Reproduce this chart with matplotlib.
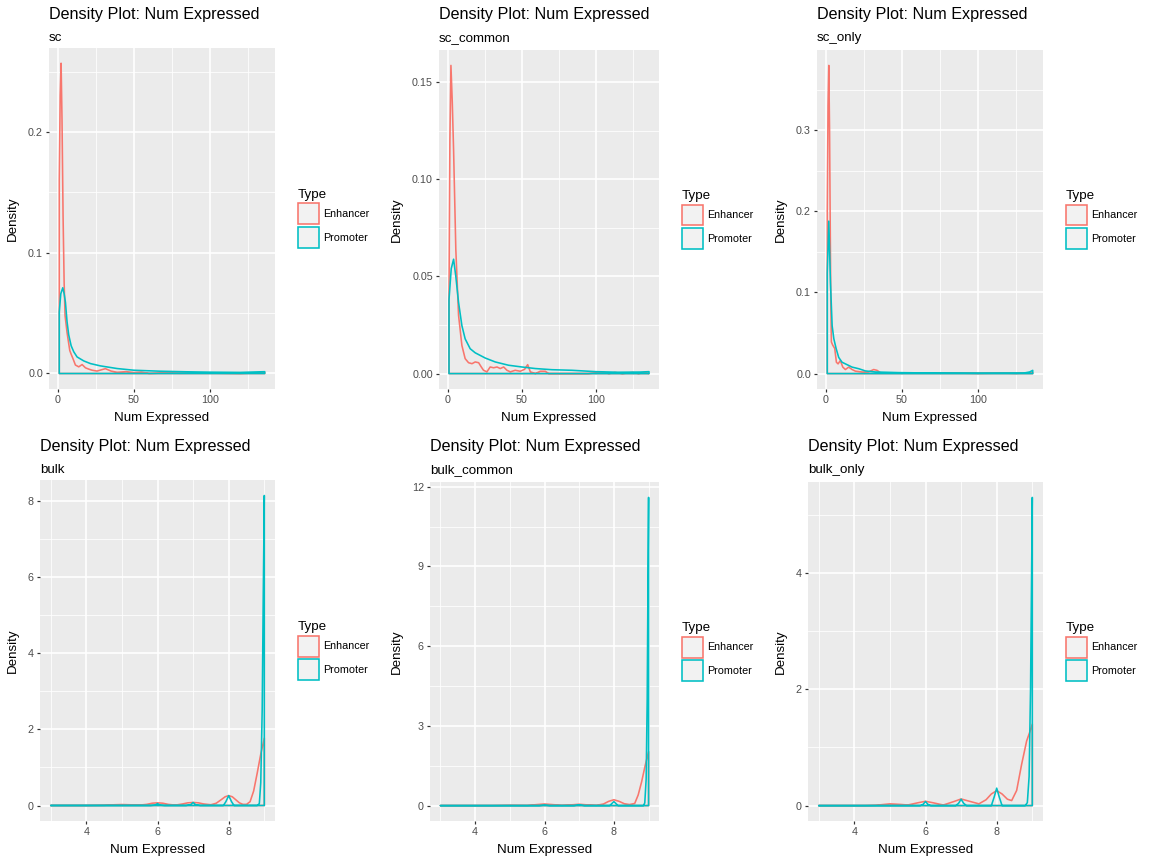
import matplotlib
matplotlib.use("Agg")
import matplotlib.pyplot as plt
from matplotlib.patches import Patch
from matplotlib.ticker import AutoMinorLocator
import numpy as np

plt.rcParams['font.family'] = ['Liberation Sans', 'DejaVu Sans']

# colours (ggplot defaults)
enh_color = '#F8766D'
pro_color = '#00BFC4'
panel_bg = '#EBEBEB'

type_names = ['Enhancer', 'Promoter']
panel_names = ['sc', 'sc_common', 'sc_only', 'bulk', 'bulk_common', 'bulk_only']

# ---- density curves ----
sc_enh_x = [1, 1.6, 2.2, 2.8, 3.5, 4.2, 4.8, 6.1, 7.9, 8.8, 10.1, 11.6, 13.8, 16, 18.2, 20.4, 22.6, 25.8,
            31.3, 35, 39, 45, 50, 55, 60, 70, 80, 100, 120, 136]
sc_enh_y = [0.16, 0.23, 0.257, 0.21, 0.13, 0.075, 0.048, 0.034, 0.019, 0.016, 0.012, 0.007, 0.0055, 0.0074,
            0.0047, 0.0036, 0.0027, 0.002, 0.004, 0.002, 0.001, 0.0015, 0.0008, 0.0012, 0.0, 0.0004, 0.0002,
            0.0003, 0.0, 0.0008]
sc_pro_x = [1, 2, 3.3, 4.2, 5.05, 6.1, 7.2, 8.8, 10.5, 12.7, 17.1, 21.5, 28, 39, 50, 67, 85, 100, 120, 136]
sc_pro_y = [0.051, 0.066, 0.071, 0.066, 0.059, 0.043, 0.032, 0.023, 0.018, 0.0137, 0.0104, 0.0082, 0.0063,
            0.0041, 0.0027, 0.0019, 0.0014, 0.0011, 0.0009, 0.0015]

scc_enh_x = [1, 1.6, 2.3, 3.2, 4.1, 5.6, 7.45, 9.7, 11.9, 14.2, 16.5, 18.7, 21, 22.8, 24.3, 26.6, 28.8, 31.1,
             33.4, 35.6, 37.9, 40.1, 42.4, 45.7, 49.1, 52, 54.1, 55.9, 59.3, 62.6, 66, 68.3, 80, 95, 105, 109,
             113, 118, 125, 129, 133, 136]
scc_enh_y = [0.04, 0.12, 0.1587, 0.14, 0.115, 0.064, 0.030, 0.0145, 0.0077, 0.0056, 0.0051, 0.006, 0.0056,
             0.0034, 0.0017, 0.0009, 0.0034, 0.003, 0.0034, 0.0026, 0.0034, 0.0017, 0.0009, 0.0017, 0.0012,
             0.0022, 0.0046, 0.0009, 0.0, 0.0012, 0.0012, 0.0, 0.0, 0.0, 0.0007, 0.0, 0.0006, 0.0, 0.0006, 0.0,
             0.0006, 0.0]
scc_pro_x = [1, 2.5, 4.1, 5.6, 7.45, 9.7, 11.9, 15.3, 18.7, 25.5, 32.2, 41.2, 50.2, 59.3, 70.5, 84, 100, 115,
             130, 136]
scc_pro_y = [0.038, 0.054, 0.0589, 0.050, 0.0367, 0.0247, 0.0179, 0.0128, 0.0107, 0.008, 0.006, 0.0043,
             0.0034, 0.0026, 0.002, 0.0017, 0.001, 0.0007, 0.0008, 0.001]

sco_enh_x = [1, 1.5, 2.0, 2.5, 2.9, 3.3, 3.7, 4.6, 5.9, 7, 8.1, 9.6, 11.2, 12.9, 15.1, 17.3, 19.5, 23.9, 28,
             31.5, 33.7, 36, 45, 60, 85, 100, 116, 125, 136]
sco_enh_y = [0.2, 0.33, 0.38, 0.3, 0.194, 0.09, 0.039, 0.035, 0.031, 0.014, 0.012, 0.016, 0.008, 0.005, 0.008,
             0.005, 0.003, 0.002, 0.002, 0.005, 0.004, 0.001, 0.0005, 0.0008, 0.0006, 0.0003, 0.0006, 0.0003,
             0.001]
sco_pro_x = [1, 2.0, 3.1, 4.2, 5.3, 6.8, 8.5, 10.7, 14, 17.3, 21.7, 26, 32.6, 48, 70, 100, 130, 134, 136]
sco_pro_y = [0.124, 0.188, 0.112, 0.059, 0.043, 0.031, 0.020, 0.014, 0.011, 0.008, 0.006, 0.0033, 0.002,
             0.0012, 0.0007, 0.0005, 0.0006, 0.002, 0.004]

bulk_enh_x = [3.0, 4.0, 4.5, 4.8, 5.0, 5.2, 5.5, 5.7, 5.85, 6.0, 6.15, 6.3, 6.5, 6.7, 6.85, 7.0, 7.15, 7.3,
              7.5, 7.65, 7.8, 7.9, 8.0, 8.1, 8.2, 8.3, 8.4, 8.5, 8.6, 8.7, 8.8, 8.9, 9.0]
bulk_enh_y = [0, 0, 0.005, 0.02, 0.025, 0.02, 0.01, 0.03, 0.06, 0.07, 0.06, 0.03, 0.01, 0.04, 0.07, 0.08,
              0.07, 0.04, 0.02, 0.06, 0.16, 0.23, 0.26, 0.23, 0.15, 0.07, 0.03, 0.03, 0.1, 0.38, 0.85, 1.35,
              1.77]
bulk_pro_x = [3.0, 5.8, 5.93, 6.0, 6.07, 6.2, 6.8, 6.93, 7.0, 7.07, 7.2, 7.85, 7.92, 8.0, 8.08, 8.15, 8.8,
              8.86, 8.9, 8.94, 8.97, 9.0]
bulk_pro_y = [0, 0, 0.01, 0.05, 0.01, 0, 0, 0.02, 0.08, 0.02, 0, 0, 0.1, 0.26, 0.1, 0, 0, 0.05, 0.6, 2.5,
              5.5, 8.15]

bc_enh_x = [3.0, 4.5, 5.0, 5.5, 5.8, 6.0, 6.2, 6.5, 6.8, 7.0, 7.2, 7.5, 7.7, 7.85, 8.0, 8.15, 8.3, 8.45,
            8.6, 8.7, 8.8, 8.9, 9.0]
bc_enh_y = [0, 0, 0.01, 0.005, 0.04, 0.06, 0.04, 0.01, 0.03, 0.05, 0.03, 0.01, 0.06, 0.16, 0.22, 0.16,
            0.07, 0.04, 0.08, 0.4, 0.9, 1.5, 2.03]
bc_pro_x = [3.0, 5.85, 6.0, 6.15, 6.85, 7.0, 7.15, 7.88, 8.0, 8.12, 8.85, 8.89, 8.93, 8.96, 8.98, 9.0]
bc_pro_y = [0, 0, 0.02, 0, 0, 0.03, 0, 0, 0.15, 0, 0, 0.1, 1.0, 4.0, 8.0, 11.6]

bo_enh_x = [3.0, 4.3, 4.6, 5.0, 5.3, 5.5, 5.8, 6.0, 6.2, 6.5, 6.8, 7.0, 7.2, 7.5, 7.7, 7.85, 8.0, 8.15,
            8.3, 8.42, 8.56, 8.7, 8.84, 8.92, 9.0]
bo_enh_y = [0, 0, 0.005, 0.03, 0.02, 0.01, 0.05, 0.074, 0.05, 0.01, 0.07, 0.114, 0.08, 0.03, 0.1, 0.2,
            0.257, 0.2, 0.11, 0.086, 0.26, 0.71, 1.11, 1.25, 1.4]
bo_pro_x = [3.0, 5.85, 5.93, 6.0, 6.07, 6.15, 6.85, 6.93, 7.0, 7.07, 7.15, 7.85, 7.93, 8.0, 8.07, 8.15, 8.8,
            8.86, 8.91, 8.95, 8.98, 9.0]
bo_pro_y = [0, 0, 0.02, 0.07, 0.02, 0, 0, 0.04, 0.11, 0.04, 0, 0, 0.15, 0.3, 0.15, 0, 0, 0.05, 0.5, 2.0,
            4.0, 5.3]

curves = {
    'sc': [(sc_enh_x, sc_enh_y), (sc_pro_x, sc_pro_y)],
    'sc_common': [(scc_enh_x, scc_enh_y), (scc_pro_x, scc_pro_y)],
    'sc_only': [(sco_enh_x, sco_enh_y), (sco_pro_x, sco_pro_y)],
    'bulk': [(bulk_enh_x, bulk_enh_y), (bulk_pro_x, bulk_pro_y)],
    'bulk_common': [(bc_enh_x, bc_enh_y), (bc_pro_x, bc_pro_y)],
    'bulk_only': [(bo_enh_x, bo_enh_y), (bo_pro_x, bo_pro_y)],
}

# tick values and labels
sc_xticks = [0, 50, 100]
bulk_xticks = [4, 6, 8]
yticks = {
    'sc': ([0.0, 0.1, 0.2], ['0.0', '0.1', '0.2']),
    'sc_common': ([0.0, 0.05, 0.10, 0.15], ['0.00', '0.05', '0.10', '0.15']),
    'sc_only': ([0.0, 0.1, 0.2, 0.3], ['0.0', '0.1', '0.2', '0.3']),
    'bulk': ([0, 2, 4, 6, 8], ['0', '2', '4', '6', '8']),
    'bulk_common': ([0, 3, 6, 9, 12], ['0', '3', '6', '9', '12']),
    'bulk_only': ([0, 2, 4], ['0', '2', '4']),
}

# panel boxes in pixels: left, top, right, bottom
W, H = 1152, 864
boxes = {
    'sc': (49, 47.7, 275, 389),
    'sc_common': (439, 50, 659, 389),
    'sc_only': (817, 50, 1043, 389),
    'bulk': (40, 480, 275, 821),
    'bulk_common': (430, 482, 659, 821),
    'bulk_only': (808, 482, 1043, 821),
}

fig = plt.figure(figsize=(16, 12), dpi=72)

for i, name in enumerate(panel_names):
    l, t, r, b = boxes[name]
    row, col = divmod(i, 3)
    ax = fig.add_axes([l / W, 1 - b / H, (r - l) / W, (b - t) / H])
    ax.set_facecolor(panel_bg)
    for s in ax.spines.values():
        s.set_visible(False)

    # closed outline like geom_density (curve + drop to baseline)
    for (x, y), c in zip(curves[name], [enh_color, pro_color]):
        x = np.asarray(x, float)
        y = np.asarray(y, float)
        px = np.r_[x[0], x, x[-1]]
        py = np.r_[0, y, 0]
        ax.fill(px, py, fill=False, edgecolor=c, linewidth=1.6, joinstyle='round')
    ax.margins(0.05)

    ax.set_xticks(sc_xticks if row == 0 else bulk_xticks)
    yt, yl = yticks[name]
    ax.set_yticks(yt, yl)
    ax.xaxis.set_minor_locator(AutoMinorLocator(2))
    ax.yaxis.set_minor_locator(AutoMinorLocator(2))
    ax.set_axisbelow(True)
    ax.grid(which='major', color='white', linewidth=1.6)
    ax.grid(which='minor', color='white', linewidth=0.8)
    ax.tick_params(which='major', length=3.4, width=1.2, color='#333333', pad=2.7,
                   labelsize=10.7, labelcolor='#4D4D4D')
    ax.tick_params(which='minor', length=0)

    # titles
    y0 = row * 432
    fig.text(l / W, 1 - (y0 + 19.5) / H, 'Density Plot: Num Expressed', fontsize=16.1,
             ha='left', va='baseline')
    fig.text(l / W, 1 - (y0 + 40.7) / H, name, fontsize=13.4, ha='left', va='baseline')
    fig.text((l + r) / 2 / W, 1 - (y0 + 421.5) / H, 'Num Expressed', fontsize=13.4,
             ha='center', va='baseline')
    fig.text((col * 384 + 12.5) / W, 1 - (t + b) / 2 / H, 'Density', fontsize=13.4,
             rotation=90, ha='center', va='center')

    handles = [Patch(facecolor='#F2F2F2', edgecolor=c, linewidth=1.6, label=n)
               for n, c in zip(type_names, [enh_color, pro_color])]
    ax.legend(handles=handles, title='Type', loc='center left',
              bbox_to_anchor=(1 + 23 / (r - l), 0.5), frameon=False,
              fontsize=10.7, title_fontsize=13.4, alignment='left',
              handlelength=1.96, handleheight=2.64, handletextpad=0.4,
              labelspacing=0.25, borderpad=0, borderaxespad=0)

fig.savefig('out.png', dpi=72, facecolor='white')
